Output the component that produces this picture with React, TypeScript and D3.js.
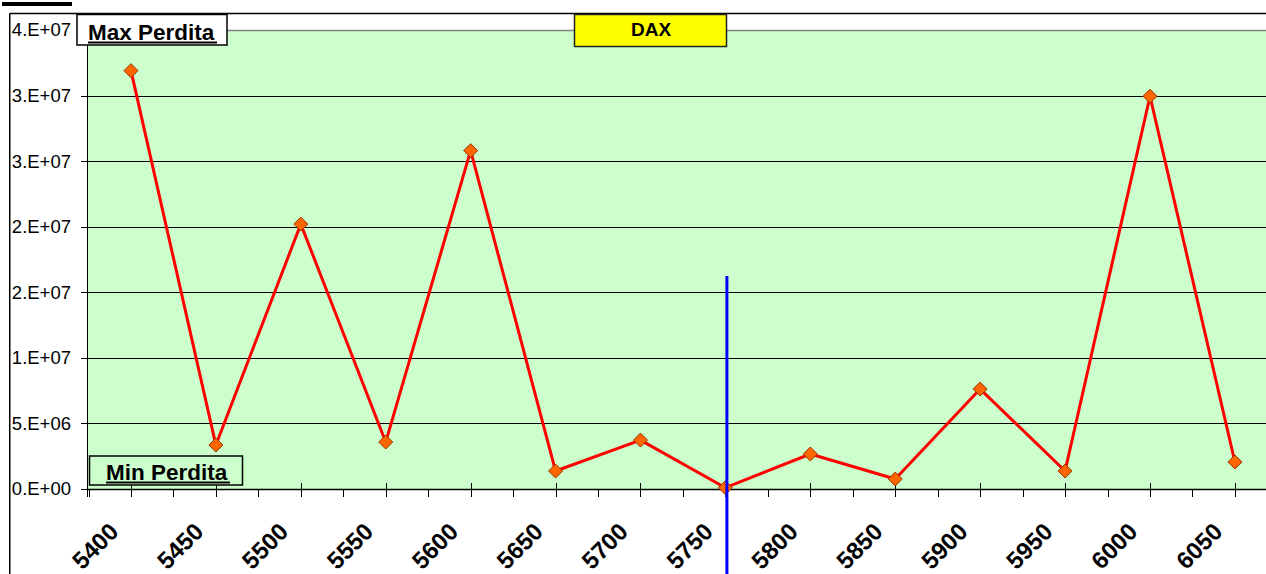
import React from "react";
import * as d3 from "d3";

const categories = ["5400","5450","5500","5550","5600","5650","5700","5750","5800","5850","5900","5950","6000","6050"];
const lossValues = [3.19e7, 3.35e6, 2.02e7, 3.58e6, 2.58e7, 1.37e6, 3.73e6, 1.0e5, 2.67e6, 7.6e5, 7.62e6, 1.37e6, 2.995e7, 2.06e6];
const yTicks = [0, 5e6, 1e7, 1.5e7, 2e7, 2.5e7, 3e7, 3.5e7];
const yTickLabels = ["0.E+00","5.E+06","1.E+07","2.E+07","2.E+07","3.E+07","3.E+07","4.E+07"];
const currentLevel = "5750";
const currentLineTop = 1.624e7;
const titleText = "DAX";
const maxLabel = "Max Perdita";
const minLabel = "Min Perdita";

const W = 1266, H = 574;
const plotLeft = 88, plotTop = 30, plotBottom = 489;
const band = 84.92;

export default function App() {
  const x = d3.scaleBand<string>().domain(categories).range([plotLeft + 0.5, plotLeft + 0.5 + band * categories.length]).padding(0);
  const bw = x.bandwidth();
  const cx = (c: string) => (x(c) as number) + bw / 2;
  const y = d3.scaleLinear().domain([0, 3.5e7]).range([plotBottom, plotTop]);
  const plotRight = plotLeft + band * categories.length;

  const line = d3.line<number>().x((_, i) => cx(categories[i])).y((v) => y(v));
  const font = "'Liberation Sans', Arial, sans-serif";

  return (
    <svg width={W} height={H} style={{ position: "absolute", left: 0, top: 0, background: "#fff" }}>
      <rect x={2} y={2} width={70} height={4} fill="#000" />
      <line x1={9.75} y1={13.5} x2={W} y2={13.5} stroke="#000" strokeWidth={1.5} />
      <line x1={9.75} y1={13.5} x2={9.75} y2={H} stroke="#000" strokeWidth={1.5} />
      <rect x={plotLeft} y={plotTop} width={plotRight - plotLeft} height={plotBottom - plotTop} fill="#CCFFCC" />
      {yTicks.map((t, i) =>
        i > 0 && i < yTicks.length - 1 ? (
          <line key={"g" + i} x1={plotLeft} x2={plotRight} y1={Math.round(y(t)) + 0.5} y2={Math.round(y(t)) + 0.5} stroke="#000" strokeWidth={1} />
        ) : null
      )}
      <line x1={plotLeft} x2={plotRight} y1={plotTop + 0.5} y2={plotTop + 0.5} stroke="#808080" strokeWidth={1.5} />
      <line x1={plotLeft - 0.5} x2={plotLeft - 0.5} y1={plotTop} y2={plotBottom + 8} stroke="#000" strokeWidth={1} />
      {yTicks.map((t, i) => (
        <g key={"yt" + i}>
          <line x1={81} x2={plotLeft} y1={Math.round(y(t)) + 0.5} y2={Math.round(y(t)) + 0.5} stroke="#000" strokeWidth={1} />
          <text x={71} y={y(t)} dy="0.35em" textAnchor="end" fontFamily={font} fontSize={18.5} fill="#000">
            {yTickLabels[i]}
          </text>
        </g>
      ))}
      <line x1={plotLeft} x2={plotRight} y1={plotBottom + 0.5} y2={plotBottom + 0.5} stroke="#000" strokeWidth={1.5} />
      {categories.map((c) => (
        <g key={"xt" + c}>
          <line x1={Math.round(x(c) as number) + 0.5} x2={Math.round(x(c) as number) + 0.5} y1={plotBottom} y2={plotBottom + 8} stroke="#000" strokeWidth={1} />
          <line x1={Math.round(cx(c)) + 0.5} x2={Math.round(cx(c)) + 0.5} y1={plotBottom - 6} y2={plotBottom + 8} stroke="#000" strokeWidth={1} />
          <text
            transform={`translate(${cx(c) - 11},${plotBottom + 44}) rotate(-45)`}
            textAnchor="end"
            fontFamily={font}
            fontWeight="bold"
            fontSize={24}
            fill="#000"
          >
            {c}
          </text>
        </g>
      ))}
      <path d={line(lossValues) || ""} fill="none" stroke="#FF0000" strokeWidth={3} strokeLinejoin="round" />
      {lossValues.map((v, i) => {
        const px = cx(categories[i]);
        const py = y(v);
        const s = 7;
        return (
          <path
            key={"m" + i}
            d={`M${px},${py - s}L${px + s},${py}L${px},${py + s}L${px - s},${py}Z`}
            fill="#FF6600"
            stroke="#993300"
            strokeWidth={1}
          />
        );
      })}
      <line x1={cx(currentLevel) + 1.5} x2={cx(currentLevel) + 1.5} y1={y(currentLineTop)} y2={H} stroke="#0000FF" strokeWidth={3} />
      <rect x={574.5} y={14.5} width={152} height={32} fill="#FFFF00" stroke="#222" strokeWidth={1.5} />
      <text x={651} y={36} textAnchor="middle" fontFamily={font} fontWeight="bold" fontSize={19} fill="#000">
        {titleText}
      </text>
      <rect x={77} y={14.5} width={150} height={30.5} fill="#fff" stroke="#000" strokeWidth={1.5} />
      <text x={88} y={40} fontFamily={font} fontWeight="bold" fontSize={22.5} fill="#000">
        {maxLabel}
      </text>
      <line x1={88} x2={217} y1={42.5} y2={42.5} stroke="#000" strokeWidth={2} />
      <rect x={89.5} y={456} width={153} height={29} fill="#CCFFCC" stroke="#000" strokeWidth={1.5} />
      <text x={106} y={480} fontFamily={font} fontWeight="bold" fontSize={22.5} fill="#000">
        {minLabel}
      </text>
      <line x1={106} x2={230} y1={482.5} y2={482.5} stroke="#000" strokeWidth={2} />
    </svg>
  );
}
